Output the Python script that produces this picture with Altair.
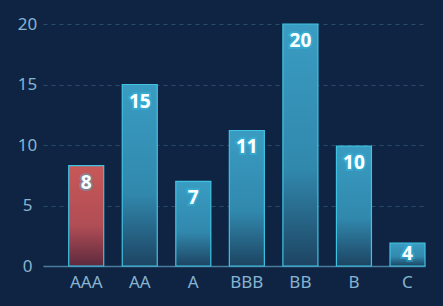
import altair as alt
import pandas as pd

categories = ["AAA", "AA", "A", "BBB", "BB", "B", "C"]
values = [8.3, 15, 7, 11.2, 20, 9.9, 1.9]
labels = ["8", "15", "7", "11", "20", "10", "4"]
highlight = ["AAA"]

df = pd.DataFrame({"cat": categories, "val": values, "lab": labels})

xenc = alt.X("cat:N", sort=categories,
             scale=alt.Scale(paddingInner=0.346, paddingOuter=0.24, align=1),
             axis=alt.Axis(title=None, labelAngle=0, ticks=False, tickSize=0,
                           labelColor="#86b4d2", labelFontSize=17, labelFont="Noto Sans",
                           labelPadding=8, domainColor="#4a7c9e", domainWidth=1.5, grid=False))
yenc = alt.Y("val:Q", scale=alt.Scale(domain=[0, 20], nice=False),
             axis=alt.Axis(title=None, values=[0, 5, 10, 15, 20], domain=False, ticks=False, tickSize=0,
                           labelColor="#86b4d2", labelFontSize=17, labelFont="Noto Sans",
                           labelAlign="center", labelPadding=16,
                           gridColor="#2a4d6e", gridDash=[4, 4], gridWidth=1))

base = alt.Chart(df)

blue_grad = alt.Gradient(gradient="linear", x1=0, x2=0, y1=0, y2=1,
                         stops=[alt.GradientStop(offset=0, color="#3a9cc2"),
                                alt.GradientStop(offset=0.6, color="#3188ad"),
                                alt.GradientStop(offset=1, color="#1d4462")])
red_grad = alt.Gradient(gradient="linear", x1=0, x2=0, y1=0, y2=1,
                        stops=[alt.GradientStop(offset=0, color="#c85858"),
                               alt.GradientStop(offset=0.6, color="#b04d55"),
                               alt.GradientStop(offset=1, color="#5e2a3e")])

bars_blue = base.transform_filter(
    alt.FieldOneOfPredicate(field="cat", oneOf=categories[1:])
).mark_bar(fill=blue_grad, stroke="#3fc3e3", strokeWidth=1.2).encode(x=xenc, y=yenc)

bars_red = base.transform_filter(
    alt.FieldOneOfPredicate(field="cat", oneOf=highlight)
).mark_bar(fill=red_grad, stroke="#3fc3e3", strokeWidth=1.2).encode(x=xenc, y=yenc)

main_lab = base.transform_filter(alt.datum.cat != "C")
small_lab = base.transform_filter(alt.datum.cat == "C")

def label_layers(src, dy):
    glow = src.mark_text(baseline="top", dy=dy, fontSize=19, fontWeight="bold", font="Noto Sans",
                         fill="#5fe0ff", stroke="#37c8f0", strokeWidth=4, strokeOpacity=0.35).encode(
        x=alt.X("cat:N", sort=categories), y="val:Q", text="lab:N")
    txt = src.mark_text(baseline="top", dy=dy, fontSize=19, fontWeight="bold", font="Noto Sans",
                        fill="#ffffff").encode(
        x=alt.X("cat:N", sort=categories), y="val:Q", text="lab:N")
    return [glow, txt]

chart = alt.layer(bars_red, bars_blue, *label_layers(main_lab, 8), *label_layers(small_lab, 2)).properties(
    width=382, height=242,
    padding={"left": 43, "top": 24, "right": 18, "bottom": 40},
    autosize=alt.AutoSizeParams(type="none"),
    background="#0f2442",
).configure_view(stroke=None)

chart.save("out.html", embed_options={"renderer": "svg", "actions": False})
